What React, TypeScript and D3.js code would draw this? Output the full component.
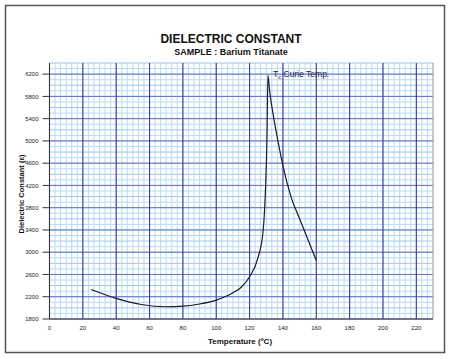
import React from "react";
import * as d3 from "d3";

const temps = [25, 40, 55, 70, 80, 90, 100, 110, 115, 120, 125, 128, 129.5, 130.4, 131, 132, 134, 137, 140, 145, 150, 160];
const dielectric = [2330, 2170, 2060, 2020, 2030, 2070, 2140, 2270, 2370, 2560, 2900, 3350, 4100, 5000, 6180, 5900, 5500, 5000, 4550, 3980, 3600, 2850];
const xTicks = [0, 20, 40, 60, 80, 100, 120, 140, 160, 180, 200, 220];
const yTicks = [1800, 2200, 2600, 3000, 3400, 3800, 4200, 4600, 5000, 5400, 5800, 6200];

export default function App() {
  const W = 450, H = 359;
  const left = 49.5, right = 433, top = 63, bottom = 319;
  const x = d3.scaleLinear().domain([0, 230]).range([left, right]);
  const y = d3.scaleLinear().domain([1800, 6400]).range([bottom, top]);

  const minorX = d3.range(0, 231, 20 / 6);
  const minorY = d3.range(1800, 6401, 100);
  const majorX = d3.range(0, 221, 20);
  const majorY = d3.range(1800, 6401, 400);

  const pts: [number, number][] = temps.map((t, i) => [t, dielectric[i]]);
  const line = d3.line<[number, number]>()
    .x(d => x(d[0]))
    .y(d => y(d[1]))
    .curve(d3.curveMonotoneX);

  const font = "Arial, 'Liberation Sans', sans-serif";

  return (
    <svg width={W} height={H} style={{ position: "absolute", left: 0, top: 0, background: "#fff" }}>
      <rect x={0} y={0} width={W} height={H} fill="#fff" />
      <rect x={5.5} y={5.5} width={439} height={347} fill="#fff" stroke="#555" strokeWidth={1.5} />
      <text x={231} y={43} textAnchor="middle" fontFamily={font} fontWeight="bold" fontSize={12} fill="#111">DIELECTRIC CONSTANT</text>
      <text x={231} y={54.5} textAnchor="middle" fontFamily={font} fontWeight="bold" fontSize={9} fill="#111">SAMPLE : Barium Titanate</text>

      <rect x={left} y={top} width={right - left} height={bottom - top} fill="#fff" />
      {minorX.map(v => (
        <line key={"mx" + v} x1={x(v)} x2={x(v)} y1={top} y2={bottom} stroke="#b6dcf2" strokeWidth={1} />
      ))}
      {minorY.map(v => (
        <line key={"my" + v} x1={left} x2={right} y1={y(v)} y2={y(v)} stroke={v % 200 === 0 ? "#a4c4ea" : "#b6dcf2"} strokeWidth={1} />
      ))}
      {majorY.map(v => (
        <line key={"My" + v} x1={left} x2={right} y1={y(v)} y2={y(v)} stroke="#6a70bc" strokeWidth={1} />
      ))}
      {majorX.map(v => (
        <line key={"Mx" + v} x1={x(v)} x2={x(v)} y1={top} y2={bottom} stroke="#3b3a9c" strokeWidth={1.1} />
      ))}
      <line x1={right} x2={right} y1={top} y2={bottom} stroke="#aaa" strokeWidth={1} />
      <line x1={left} x2={left} y1={top} y2={bottom} stroke="#333" strokeWidth={1} />
      <line x1={left} x2={right} y1={bottom} y2={bottom} stroke="#444" strokeWidth={1} />

      {yTicks.map(v => (
        <g key={"yt" + v}>
          <line x1={left - 7} x2={left} y1={y(v)} y2={y(v)} stroke="#333" strokeWidth={1} />
          <text x={38.5} y={y(v) + 2.2} textAnchor="end" fontFamily={font} fontSize={6} fill="#222">{v}</text>
        </g>
      ))}
      {xTicks.map(v => (
        <text key={"xt" + v} x={x(v)} y={330} textAnchor="middle" fontFamily={font} fontSize={6} fill="#222">{v}</text>
      ))}

      <text x={240} y={344} textAnchor="middle" fontFamily={font} fontWeight="bold" fontSize={8} fill="#111">Temperature (ºC)</text>
      <text transform={`translate(24,194) rotate(-90)`} textAnchor="middle" fontFamily={font} fontWeight="bold" fontSize={7.5} fill="#111">Dielectric Constant (ε)</text>

      <path d={line(pts) ?? ""} fill="none" stroke="#1a1a2a" strokeWidth={1.2} />

      <text x={273} y={77} fontFamily={font} fontSize={8.5} fill="#1a1a4a">
        T<tspan fontSize={6} dy={2}>c</tspan><tspan dy={-2}> Curie Temp.</tspan>
      </text>
    </svg>
  );
}
